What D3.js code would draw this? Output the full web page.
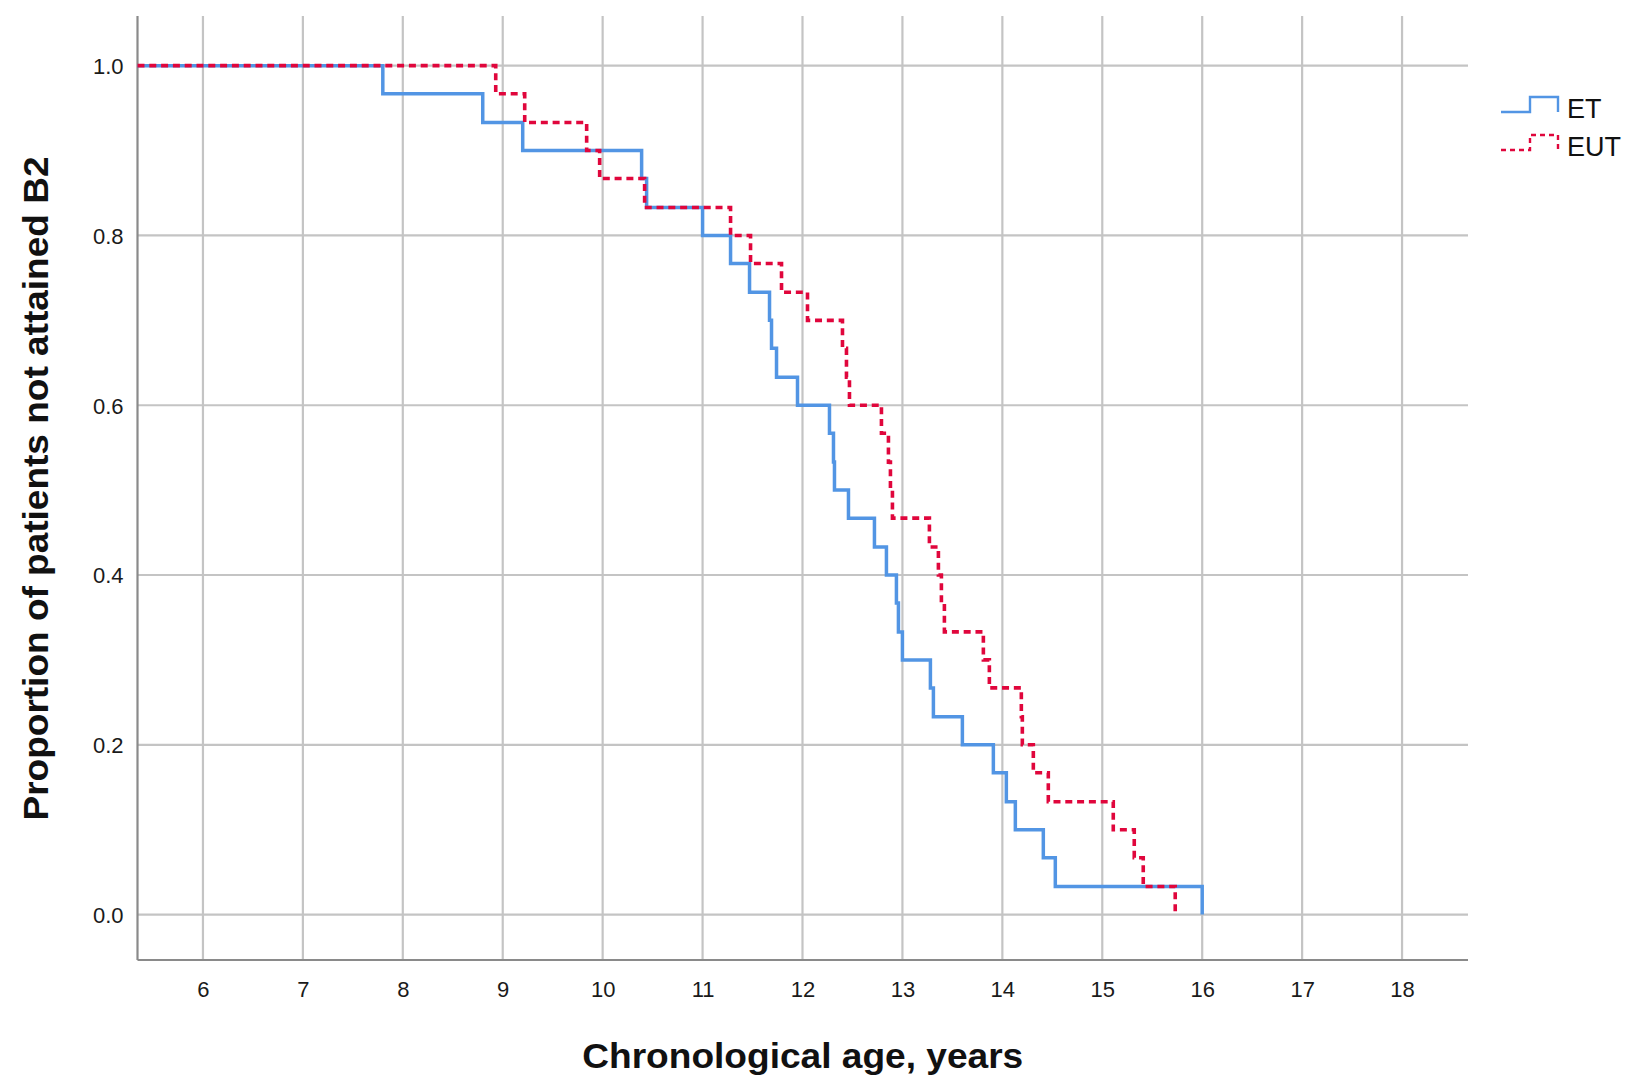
<!DOCTYPE html>
<html>
<head>
<meta charset="utf-8">
<script src="https://cdn.jsdelivr.net/npm/d3@7"></script>
<style>
  html, body { margin: 0; padding: 0; background: #ffffff; }
  svg { display: block; }
</style>
</head>
<body>
<svg id="chart" width="1635" height="1081"></svg>
<script>
// ---- Data ----
const seriesNames = ["ET", "EUT"];

// ET: event ages (years) and cumulative proportion not attained B2 after each event
const etTimes = [7.80, 8.80, 9.20, 10.39, 10.44, 11.00, 11.28, 11.47, 11.67, 11.69,
                 11.74, 11.95, 12.27, 12.31, 12.32, 12.46, 12.72, 12.84, 12.94, 12.96,
                 13.00, 13.28, 13.31, 13.60, 13.91, 14.04, 14.13, 14.41, 14.53, 16.00];
const etSurv  = [0.967, 0.933, 0.900, 0.867, 0.833, 0.800, 0.767, 0.733, 0.700, 0.667,
                 0.633, 0.600, 0.567, 0.533, 0.500, 0.467, 0.433, 0.400, 0.367, 0.333,
                 0.300, 0.267, 0.233, 0.200, 0.167, 0.133, 0.100, 0.067, 0.033, 0.000];

// EUT
const eutTimes = [8.93, 9.22, 9.84, 9.97, 10.42, 11.28, 11.48, 11.79, 12.05, 12.40,
                  12.44, 12.47, 12.79, 12.86, 12.88, 12.90, 13.27, 13.36, 13.39, 13.42,
                  13.81, 13.87, 14.19, 14.20, 14.31, 14.46, 15.11, 15.32, 15.41, 15.73];
const eutSurv  = [0.967, 0.933, 0.900, 0.867, 0.833, 0.800, 0.767, 0.733, 0.700, 0.667,
                  0.633, 0.600, 0.567, 0.533, 0.500, 0.467, 0.433, 0.400, 0.367, 0.333,
                  0.300, 0.267, 0.233, 0.200, 0.167, 0.133, 0.100, 0.067, 0.033, 0.000];

const xTickValues = [6, 7, 8, 9, 10, 11, 12, 13, 14, 15, 16, 17, 18];
const yTickValues = [0.0, 0.2, 0.4, 0.6, 0.8, 1.0];
const yTickLabels = ["0.0", "0.2", "0.4", "0.6", "0.8", "1.0"];
const xDomain = [5.345, 18.66];
const yDomain = [-0.0535, 1.0585];

const xTitle = "Chronological age, years";
const yTitle = "Proportion of patients not attained B2";

// ---- Layout ----
const plot = { left: 137.5, right: 1468, top: 16, bottom: 960 };
const colors = { ET: "#5295e4", EUT: "#e0063c" };
const font = "'Liberation Sans', Arial, sans-serif";

const svg = d3.select("#chart");
const x = d3.scaleLinear().domain(xDomain).range([plot.left, plot.right]);
const y = d3.scaleLinear().domain(yDomain).range([plot.bottom, plot.top]);

// grid lines
const grid = svg.append("g");
grid.selectAll("line.vg").data(xTickValues).enter().append("line")
  .attr("x1", d => x(d)).attr("x2", d => x(d))
  .attr("y1", plot.top).attr("y2", plot.bottom)
  .attr("stroke", "#c4c4c4").attr("stroke-width", 2.2);
grid.selectAll("line.hg").data(yTickValues).enter().append("line")
  .attr("x1", plot.left).attr("x2", plot.right)
  .attr("y1", d => y(d)).attr("y2", d => y(d))
  .attr("stroke", "#c4c4c4").attr("stroke-width", 2.2);

// axes (D3 axes, tick lines hidden; labels styled)
const xAxis = d3.axisBottom(x).tickValues(xTickValues).tickSize(0).tickPadding(0)
  .tickFormat(d3.format("d"));
const gx = svg.append("g").attr("transform", `translate(0,${plot.bottom})`).call(xAxis);
gx.select(".domain").attr("stroke", "#8a8a8a").attr("stroke-width", 2.2)
  .attr("d", `M${plot.left},0H${plot.right}`);
gx.selectAll(".tick text")
  .attr("y", 37).attr("dy", null)
  .attr("font-family", font).attr("font-size", 22).attr("fill", "#1a1a1a");

const yAxis = d3.axisLeft(y).tickValues(yTickValues).tickSize(0).tickPadding(0)
  .tickFormat((d, i) => yTickLabels[i]);
const gy = svg.append("g").attr("transform", `translate(${plot.left},0)`).call(yAxis);
gy.select(".domain").attr("stroke", "#8a8a8a").attr("stroke-width", 2.2)
  .attr("d", `M0,${plot.top}V${plot.bottom}`);
gy.selectAll(".tick text")
  .attr("x", -14).attr("dy", "0.36em")
  .attr("font-family", font).attr("font-size", 22).attr("fill", "#1a1a1a");

// survival step curves
const line = d3.line().x(d => x(d[0])).y(d => y(d[1])).curve(d3.curveStepAfter);
function pts(times, surv) {
  const p = [[xDomain[0], 1.0]];
  times.forEach((t, i) => p.push([t, surv[i]]));
  return p;
}
svg.append("path").datum(pts(etTimes, etSurv))
  .attr("d", line).attr("fill", "none")
  .attr("stroke", colors.ET).attr("stroke-width", 3.5);
svg.append("path").datum(pts(eutTimes, eutSurv))
  .attr("d", line).attr("fill", "none")
  .attr("stroke", colors.EUT).attr("stroke-width", 3.6)
  .attr("stroke-dasharray", "7,4.8");

// axis titles
svg.append("text")
  .attr("x", (plot.left + plot.right) / 2).attr("y", 1068)
  .attr("text-anchor", "middle")
  .attr("font-family", font).attr("font-weight", "bold").attr("font-size", 35)
  .attr("textLength", 441).attr("lengthAdjust", "spacingAndGlyphs")
  .attr("fill", "#111").text(xTitle);
svg.append("text")
  .attr("transform", "translate(48,488.5) rotate(-90)")
  .attr("text-anchor", "middle")
  .attr("font-family", font).attr("font-weight", "bold").attr("font-size", 35)
  .attr("textLength", 664).attr("lengthAdjust", "spacingAndGlyphs")
  .attr("fill", "#111").text(yTitle);

// legend
const legendRows = [
  { name: seriesNames[0], low: 112, high: 97, text: 118, dash: null, w: 2.4 },
  { name: seriesNames[1], low: 150, high: 135, text: 156, dash: "5,4", w: 2.4 }
];
const lg = svg.append("g");
legendRows.forEach(r => {
  lg.append("path")
    .attr("d", `M1501,${r.low}H1530V${r.high}H1558V${r.low}`)
    .attr("fill", "none").attr("stroke", colors[r.name]).attr("stroke-width", r.w)
    .attr("stroke-dasharray", r.dash);
  lg.append("text").attr("x", 1567).attr("y", r.text)
    .attr("font-family", font).attr("font-size", 27).attr("fill", "#111")
    .text(r.name);
});
</script>
</body>
</html>
